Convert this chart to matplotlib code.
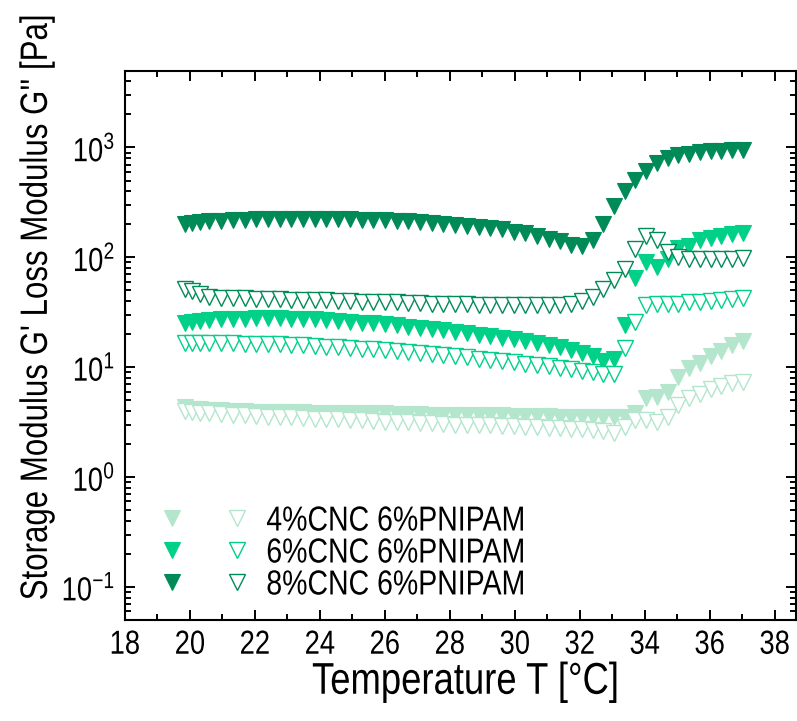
import matplotlib
matplotlib.use('Agg')
import matplotlib.pyplot as plt
from matplotlib import patheffects
from matplotlib.transforms import Affine2D
from matplotlib.ticker import MultipleLocator, LogLocator, LogFormatterMathtext, NullFormatter
from matplotlib.legend_handler import HandlerTuple

plt.rcParams['font.family'] = ['Liberation Sans', 'DejaVu Sans']
plt.rcParams['mathtext.default'] = 'regular'

# temperature sweep (°C)
temp = [19.85, 20.05, 20.3, 20.6, 20.96, 21.32, 21.68, 22.04, 22.4, 22.76,
        23.12, 23.48, 23.84, 24.2, 24.56, 24.92, 25.28, 25.64, 26.0, 26.36,
        26.72, 27.08, 27.44, 27.8, 28.16, 28.52, 28.88, 29.24, 29.6, 29.96,
        30.32, 30.68, 31.04, 31.4, 31.73, 32.06, 32.39, 32.72, 33.05, 33.38,
        33.71, 34.04, 34.37, 34.7, 35.03, 35.36, 35.69, 36.02, 36.35, 36.68,
        37.01]

# storage modulus G' [Pa]
g1_cnc4 = [4.3, 4.2, 4.15, 4.1, 4.05, 4.0, 4.0, 3.95, 3.95, 3.9,
           3.9, 3.9, 3.85, 3.85, 3.85, 3.8, 3.8, 3.8, 3.8, 3.75,
           3.75, 3.75, 3.7, 3.7, 3.7, 3.7, 3.65, 3.65, 3.65, 3.6,
           3.6, 3.6, 3.6, 3.55, 3.55, 3.55, 3.5, 3.5, 3.55, 3.5,
           3.8, 5.2, 5.4, 6.0, 8.2, 9.8, 11.0, 12.6, 14.0, 15.8,
           17.5]
g1_cnc6 = [25.5, 26.0, 26.5, 27.0, 27.3, 27.5, 27.7, 27.8, 27.8, 27.8,
           27.6, 27.4, 27.2, 26.8, 26.4, 26.0, 25.5, 25.0, 24.5, 24.0,
           23.4, 22.8, 22.2, 21.6, 21.0, 20.4, 19.8, 19.2, 18.6, 18.0,
           17.3, 16.6, 15.9, 15.2, 14.4, 13.6, 12.6, 11.5, 12.0, 24.0,
           65.0, 90.0, 81.0, 97.0, 121.0, 126.0, 143.0, 151.0, 155.0, 164.0,
           166.0]
g1_cnc8 = [200, 205, 208, 212, 215, 218, 220, 222, 223, 224,
           225, 225, 225, 224, 224, 223, 221, 220, 218, 215,
           212, 208, 204, 200, 197, 193, 190, 184, 180, 171,
           165, 155, 148, 140, 130, 127, 145, 200, 295, 405,
           510, 615, 730, 810, 860, 875, 905, 920, 930, 940,
           950]

# loss modulus G'' [Pa]
g2_cnc4 = [4.0, 3.9, 3.85, 3.8, 3.75, 3.7, 3.65, 3.6, 3.55, 3.5,
           3.5, 3.45, 3.4, 3.4, 3.35, 3.3, 3.3, 3.25, 3.2, 3.2,
           3.15, 3.1, 3.1, 3.05, 3.0, 3.0, 2.95, 2.95, 2.9, 2.9,
           2.85, 2.85, 2.8, 2.8, 2.75, 2.75, 2.7, 2.6, 2.5, 2.85,
           3.3, 3.3, 3.16, 3.5, 4.5, 5.2, 5.7, 6.3, 6.8, 7.2,
           7.3]
g2_cnc6 = [16.5, 16.5, 16.6, 16.6, 16.6, 16.5, 16.4, 16.3, 16.2, 16.1,
           16.0, 15.8, 15.6, 15.4, 15.2, 15.0, 14.8, 14.6, 14.4, 14.1,
           13.8, 13.5, 13.2, 12.9, 12.6, 12.3, 12.0, 11.7, 11.4, 11.1,
           10.8, 10.5, 10.2, 9.9, 9.6, 9.3, 9.0, 8.7, 8.6, 15.0,
           26.0, 37.0, 38.0, 37.5, 38.0, 39.0, 39.5, 40.0, 41.0, 42.0,
           43.0]
g2_cnc8 = [52, 49, 46, 44, 43, 43, 42.5, 42, 42, 41.5,
           41, 41, 40.5, 40.5, 40, 40, 39.5, 39.5, 39, 39,
           38.5, 38.5, 38, 38, 37.5, 37.5, 37, 37, 37, 36.5,
           36.5, 36.5, 36.5, 37, 38, 40, 44, 52, 62, 78,
           118, 158, 143, 113, 100, 97, 96, 96, 97, 97,
           98]

labels = ['4%CNC 6%PNIPAM', '6%CNC 6%PNIPAM', '8%CNC 6%PNIPAM']
colors = ['#b3e6cc', '#00d088', '#008a58']


class Narrow(patheffects.AbstractPathEffect):
    """Condensed glyphs: rescale the text path along / across its baseline."""

    def __init__(self, sx=0.82, sy=1.0, anchor='center'):
        super().__init__()
        self.sx = sx
        self.sy = sy
        self.anchor = anchor

    def draw_path(self, renderer, gc, tpath, affine, rgbFace=None):
        xs = tpath.vertices[:, 0]
        if self.anchor == 'left':
            x0 = xs.min()
        elif self.anchor == 'right':
            x0 = xs.max()
        else:
            x0 = (xs.min() + xs.max()) / 2
        squeeze = Affine2D().translate(-x0, 0).scale(self.sx, self.sy).translate(x0, 0)
        renderer.draw_path(gc, tpath, squeeze + affine, rgbFace)


fig = plt.figure(figsize=(7.97, 7.21), dpi=100)
ax = fig.add_axes([125 / 797, 1 - 620 / 721, 671 / 797, (620 - 70.7) / 721])

handles = []
for g1, g2, c in zip([g1_cnc4, g1_cnc6, g1_cnc8], [g2_cnc4, g2_cnc6, g2_cnc8], colors):
    h1, = ax.plot(temp, g1, ls='none', marker='v', ms=11.5, mfc=c, mec=c, mew=0.8)
    h2, = ax.plot(temp, g2, ls='none', marker='v', ms=11.5, mfc='white', mec=c, mew=1.0)
    handles.append((h1, h2))

ax.set_yscale('log')
ax.set_xlim(18, 38.65)
ax.set_ylim(0.05, 5000)

ax.xaxis.set_major_locator(MultipleLocator(2))
ax.xaxis.set_minor_locator(MultipleLocator(1))
ax.yaxis.set_major_locator(LogLocator(base=10, numticks=10))
ax.yaxis.set_minor_locator(LogLocator(base=10, subs=range(2, 10), numticks=10))
ax.yaxis.set_major_formatter(LogFormatterMathtext())
ax.yaxis.set_minor_formatter(NullFormatter())

ax.tick_params(which='both', direction='in', top=True, right=True, width=1.4)
ax.tick_params(which='major', length=7, labelsize=24, pad=7)
ax.tick_params(which='minor', length=4)
for sp in ax.spines.values():
    sp.set_linewidth(1.5)

ax.set_xlabel('Temperature T [°C]', fontsize=32)
ax.xaxis.set_label_coords(0.508, -0.076)
# long vertical label: keep the true length, stretch the glyph height instead
ax.set_ylabel("Storage Modulus G' Loss Modulus G'' [Pa]", fontsize=22.5)
ax.yaxis.set_label_coords(-0.106, 0.569)

leg = ax.legend(handles, labels, handler_map={tuple: HandlerTuple(ndivide=None, pad=0.6)},
                loc='center left', bbox_to_anchor=(150 / 797, 1 - 553 / 721),
                bbox_transform=fig.transFigure, frameon=False, fontsize=25,
                handlelength=3.15, handletextpad=0.2, borderpad=0, borderaxespad=0,
                labelspacing=-0.03, numpoints=1)

# condensed lettering on every text
fig.canvas.draw()
for t in ax.get_xticklabels():
    t.set_path_effects([Narrow()])
for t in ax.get_yticklabels():
    t.set_path_effects([Narrow(anchor='right')])
for t in leg.get_texts():
    t.set_path_effects([Narrow(anchor='left')])
ax.xaxis.label.set_path_effects([Narrow()])
ax.yaxis.label.set_path_effects([Narrow(sx=1.0, sy=1.22)])

fig.savefig('out.png', dpi=100)
